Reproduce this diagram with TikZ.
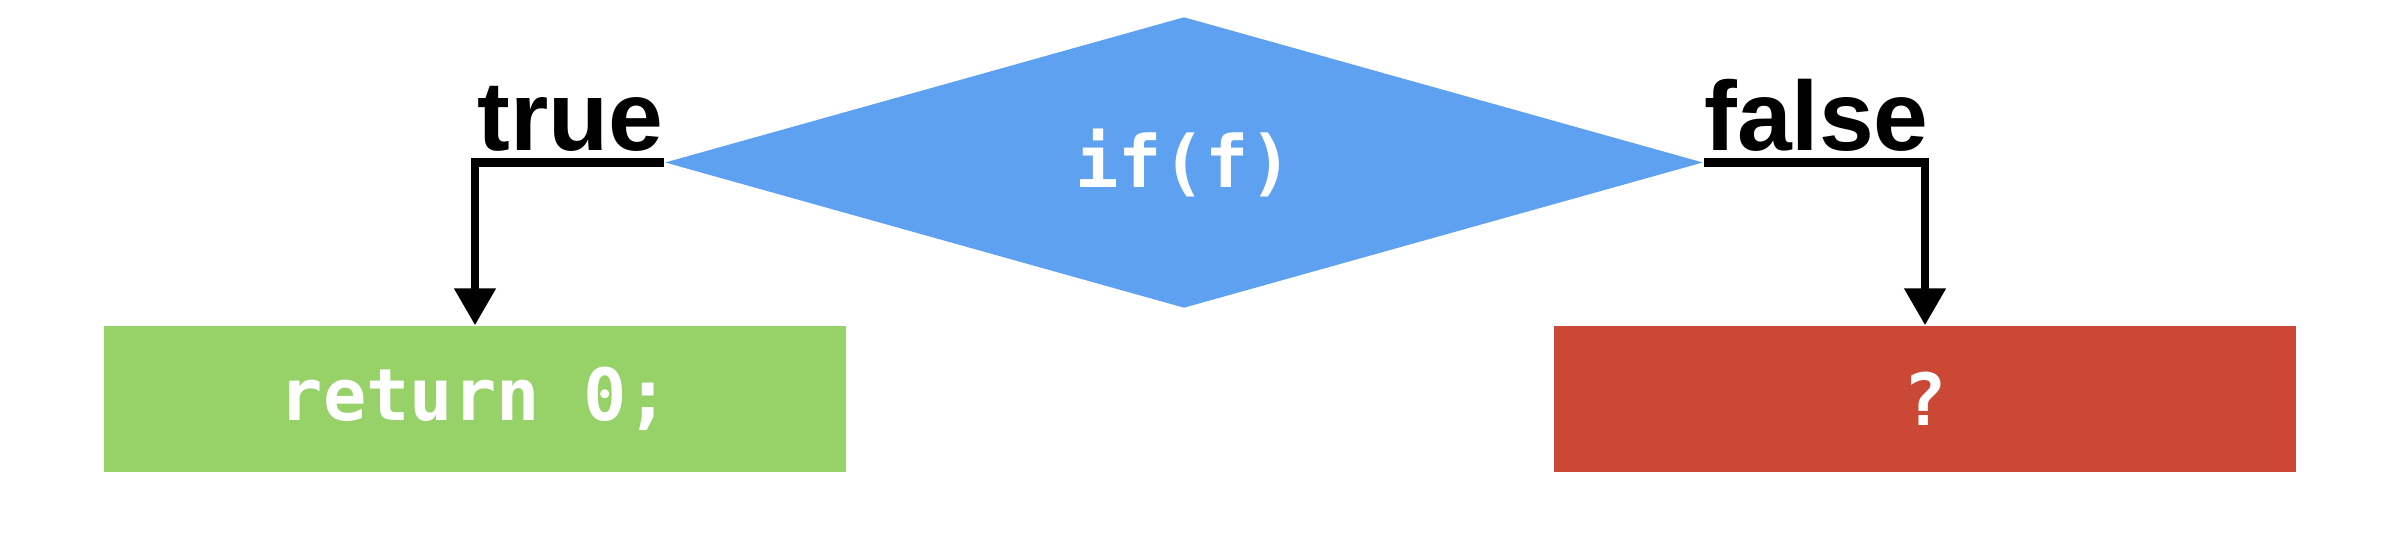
\documentclass[tikz,border=0pt]{standalone}
\usepackage{fontspec}
\setmainfont{Liberation Sans}
\setmonofont{DejaVu Sans Mono}
\usetikzlibrary{arrows.meta,shapes.geometric}

\definecolor{condblue}{RGB}{94,161,240}
\definecolor{truegreen}{RGB}{151,210,104}
\definecolor{falsered}{RGB}{203,72,52}

\begin{document}
\begin{tikzpicture}[
  codetext/.style={text=white,font=\ttfamily\bfseries\fontsize{20.5}{24}\selectfont},
  branch/.style={font=\bfseries\fontsize{28}{33}\selectfont,inner sep=0pt},
  cond/.style={diamond,fill=condblue,minimum width=10.38cm,minimum height=2.91cm,inner sep=0pt,codetext},
  result/.style={rectangle,minimum width=7.42cm,minimum height=1.46cm,inner sep=0pt,codetext},
  flow/.style={-{Triangle[length=0.37cm,width=0.4cm]},line width=2.3pt}
]
\useasboundingbox (0,0) rectangle (24.08,5.38);

\node[cond] (test) at (11.84,3.755) {if(f)};
\node[result,fill=truegreen] (ret) at (4.75,1.39) {return 0;};
\node[result,fill=falsered] (unknown) at (19.25,1.39) {?};

\node[branch,anchor=base east] (tlabel) at ([yshift=0.12cm]test.west) {true};
\node[branch,anchor=base west] (flabel) at ([yshift=0.12cm]test.east) {false};

\draw[flow] (test.west) -| (ret.north);
\draw[flow] (test.east) -| (unknown.north);
\end{tikzpicture}
\end{document}
